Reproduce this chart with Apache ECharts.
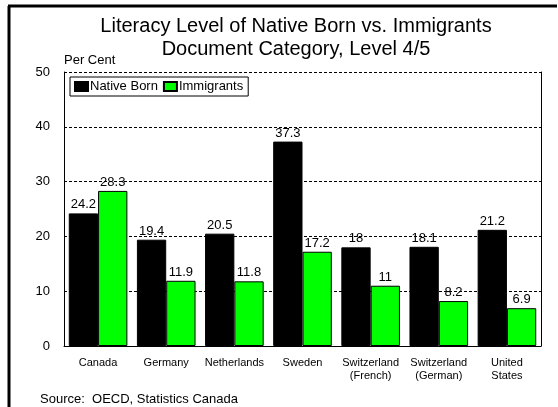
<!DOCTYPE html>
<html>
<head>
<meta charset="utf-8">
<script src="https://cdn.jsdelivr.net/npm/echarts@6/dist/echarts.min.js"></script>
<style>
html,body{margin:0;padding:0;background:#fff;}
#c{width:558px;height:407px;}
</style>
</head>
<body>
<div id="c"></div>
<script>
var categories = ['Canada', 'Germany', 'Netherlands', 'Sweden', 'Switzerland\n(French)', 'Switzerland\n(German)', 'United\nStates'];
var nativeBorn = [24.2, 19.4, 20.5, 37.3, 18, 18.1, 21.2];
var immigrants = [28.3, 11.9, 11.8, 17.2, 11, 8.2, 6.9];
var yTicks = [0, 10, 20, 30, 40, 50];

var FONT = '"Liberation Sans", Arial, sans-serif';
var chart = echarts.init(document.getElementById('c'), null, {renderer: 'canvas'});
var labelStyle = {show: true, position: 'top', distance: 2, color: '#000', fontSize: 13, fontFamily: FONT};
chart.setOption({
  animation: false,
  backgroundColor: '#fff',
  title: {
    text: 'Literacy Level of Native Born vs. Immigrants\nDocument Category, Level 4/5',
    left: 291, top: 10, textAlign: 'center',
    textStyle: {fontSize: 20, fontWeight: 'normal', color: '#000', fontFamily: FONT, lineHeight: 23}
  },
  legend: {
    left: 70, top: 77,
    orient: 'horizontal',
    icon: 'rect',
    itemWidth: 13, itemHeight: 9, itemGap: 5,
    padding: [3, 5, 3, 4],
    borderColor: '#000', borderWidth: 1, backgroundColor: '#fff',
    textStyle: {fontSize: 13, color: '#000', fontFamily: FONT, padding: [0, 0, 0, -3]},
    data: ['Native Born', 'Immigrants']
  },
  grid: {left: 64, right: 17, top: 72, bottom: 61, containLabel: false},
  xAxis: {
    type: 'category',
    data: categories,
    axisLine: {show: true, lineStyle: {color: '#000', width: 1}},
    axisTick: {show: false},
    axisLabel: {interval: 0, color: '#000', fontSize: 11, fontFamily: FONT, margin: 10, lineHeight: 13}
  },
  yAxis: [{
    type: 'value', min: 0, max: 50, interval: 10,
    name: 'Per Cent', nameLocation: 'end', nameGap: 5,
    nameTextStyle: {color: '#000', fontSize: 13, fontFamily: FONT, align: 'left', padding: [0, 0, 0, 0]},
    axisLine: {show: true, lineStyle: {color: '#000', width: 1}},
    axisTick: {show: false},
    axisLabel: {color: '#000', fontSize: 13, fontFamily: FONT, margin: 14,
      formatter: function (v) { return yTicks.indexOf(v) >= 0 ? String(v) : ''; }},
    splitLine: {show: true, lineStyle: {color: '#000', type: [3, 2], width: 1}}
  }, {
    type: 'value', min: 0, max: 50, interval: 10, position: 'right',
    axisLine: {show: true, lineStyle: {color: '#000', width: 1}},
    axisTick: {show: false}, axisLabel: {show: false}, splitLine: {show: false}
  }],
  series: [{
    name: 'Native Born', type: 'bar', data: nativeBorn,
    barGap: '0%', barCategoryGap: '14%',
    itemStyle: {color: '#000', borderColor: '#000', borderWidth: 1},
    label: labelStyle, z: 1
  }, {
    name: 'Immigrants', type: 'bar', data: immigrants,
    barGap: '0%', barCategoryGap: '14%',
    itemStyle: {color: '#00ff00', borderColor: '#000', borderWidth: 1},
    label: labelStyle, z: 1
  }],
  graphic: [
    {type: 'line', shape: {x1: 9, y1: 6, x2: 9, y2: 407}, style: {stroke: '#000', lineWidth: 3}},
    {type: 'line', shape: {x1: 8, y1: 6, x2: 557, y2: 6}, style: {stroke: '#000', lineWidth: 3}},
    {type: 'text', left: 40, top: 393, style: {text: 'Source:  OECD, Statistics Canada', fill: '#000', fontSize: 13, fontFamily: FONT}}
  ]
});
</script>
</body>
</html>
